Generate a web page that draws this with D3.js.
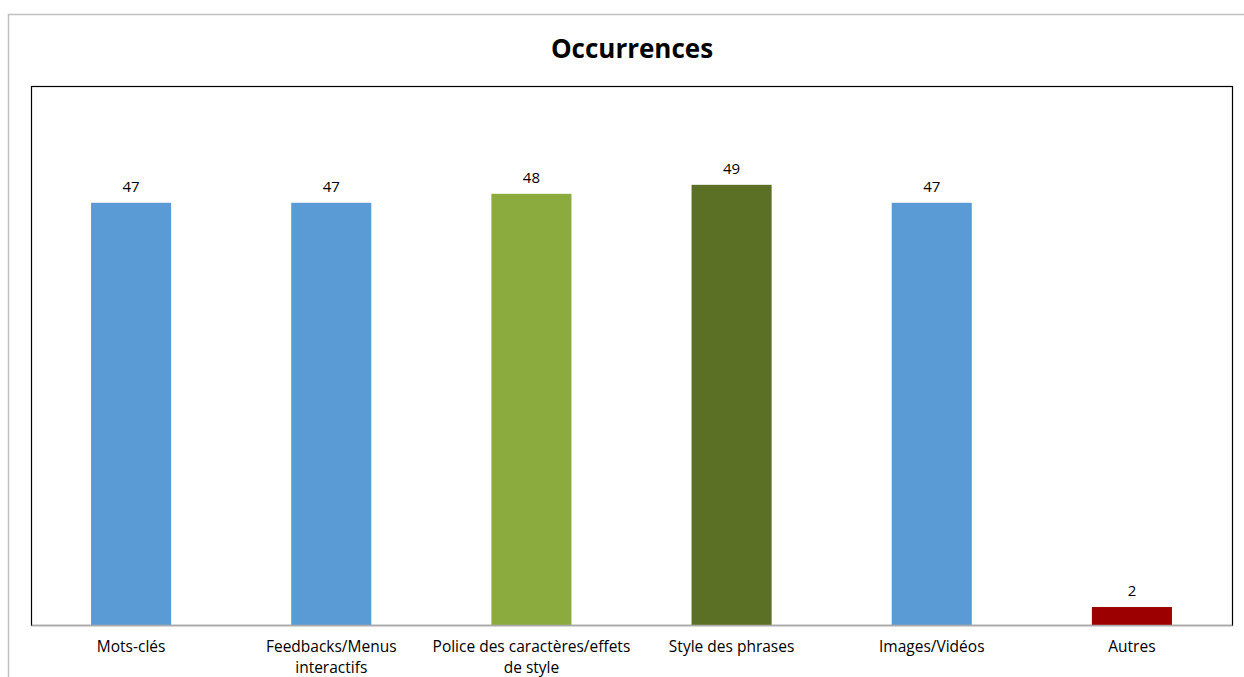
<!DOCTYPE html>
<html>
<head>
<meta charset="utf-8">
<script src="https://cdn.jsdelivr.net/npm/d3@7"></script>
<style>
  body { margin: 0; background: #fff; }
  text { font-family: "Open Sans", sans-serif; fill: #000; }
</style>
</head>
<body>
<div id="chart"></div>
<script>
// Chart data
const categories = [
  "Mots-clés",
  "Feedbacks/Menus interactifs",
  "Police des caractères/effets de style",
  "Style des phrases",
  "Images/Vidéos",
  "Autres"
];
const values = [47, 47, 48, 49, 47, 2];
const barColors = ["#5b9bd5", "#5b9bd5", "#8bab3f", "#5b7024", "#5b9bd5", "#9d0000"];
const yDomain = [0, 60];

const width = 1244, height = 677;
const margin = { top: 86, right: 12, bottom: 52, left: 31 };

const svg = d3.select("#chart")
  .append("svg")
  .attr("width", width)
  .attr("height", height);

// outer frame (gray, only top and left visible)
svg.append("path")
  .attr("d", `M8.5,${height} V14.5 H${width}`)
  .attr("fill", "none")
  .attr("stroke", "#bfbfbf")
  .attr("stroke-width", 1.5);

svg.append("text")
  .attr("x", 632)
  .attr("y", 58)
  .attr("text-anchor", "middle")
  .attr("font-size", 26)
  .attr("font-weight", "bold")
  .text("Occurrences");

const x = d3.scaleBand()
  .domain(categories)
  .range([margin.left, width - margin.right])
  .paddingInner(0.6)
  .paddingOuter(0.3);

const y = d3.scaleLinear()
  .domain(yDomain)
  .range([height - margin.bottom, margin.top]);

// plot area frame
svg.append("rect")
  .attr("x", margin.left + 0.5)
  .attr("y", margin.top + 0.5)
  .attr("width", width - margin.left - margin.right)
  .attr("height", height - margin.top - margin.bottom)
  .attr("fill", "none")
  .attr("stroke", "#000")
  .attr("stroke-width", 1.2);

svg.selectAll(".bar")
  .data(values)
  .join("rect")
  .attr("class", "bar")
  .attr("x", (d, i) => x(categories[i]))
  .attr("y", d => y(d))
  .attr("width", x.bandwidth())
  .attr("height", d => y(0) - y(d))
  .attr("fill", (d, i) => barColors[i]);

svg.selectAll(".val")
  .data(values)
  .join("text")
  .attr("class", "val")
  .attr("x", (d, i) => x(categories[i]) + x.bandwidth() / 2)
  .attr("y", d => y(d) - 11)
  .attr("text-anchor", "middle")
  .attr("font-size", 15)
  .text(d => d);

// bottom axis, labels wrapped like the original
const xAxis = d3.axisBottom(x).tickSize(0).tickPadding(0);
const axisG = svg.append("g")
  .attr("transform", `translate(0,${height - margin.bottom})`)
  .call(xAxis);
axisG.select(".domain").attr("stroke", "#aaa").attr("stroke-width", 1.5);
axisG.selectAll(".tick text").remove();

axisG.selectAll(".tick").append("text")
  .attr("text-anchor", "middle")
  .attr("font-size", 15.5)
  .attr("font-family", "Open Sans, sans-serif")
  .each(function (d) {
    const t = d3.select(this);
    const words = d.split(" ");
    let line = [], lines = [];
    words.forEach(w => {
      line.push(w);
      t.text(line.join(" "));
      if (this.getComputedTextLength() > 203 && line.length > 1) {
        line.pop();
        lines.push(line.join(" "));
        line = [w];
      }
    });
    lines.push(line.join(" "));
    t.text(null);
    lines.forEach((l, i) => {
      t.append("tspan").attr("x", 0).attr("y", 27 + i * 20.5).text(l);
    });
  });
</script>
</body>
</html>
